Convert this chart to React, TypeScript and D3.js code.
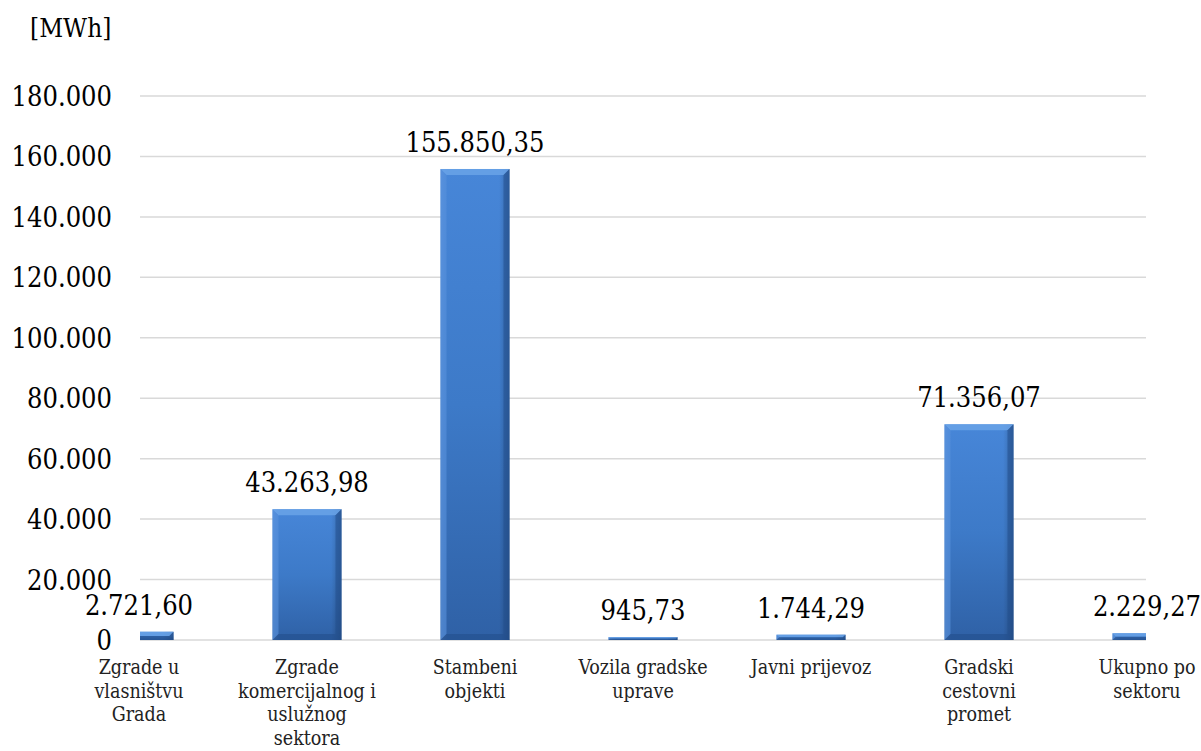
import React from "react";
import * as d3 from "d3";

const categories: string[][] = [
  ["Zgrade u", "vlasništvu", "Grada"],
  ["Zgrade", "komercijalnog i", "uslužnog", "sektora"],
  ["Stambeni", "objekti"],
  ["Vozila gradske", "uprave"],
  ["Javni prijevoz"],
  ["Gradski", "cestovni", "promet"],
  ["Ukupno po", "sektoru"],
];
const values: number[] = [2721.6, 43263.98, 155850.35, 945.73, 1744.29, 71356.07, 2229.27];
const valueLabels: string[] = ["2.721,60", "43.263,98", "155.850,35", "945,73", "1.744,29", "71.356,07", "2.229,27"];
const yTicks: number[] = [0, 20000, 40000, 60000, 80000, 100000, 120000, 140000, 160000, 180000];
const yTickLabels: string[] = ["0", "20.000", "40.000", "60.000", "80.000", "100.000", "120.000", "140.000", "160.000", "180.000"];
const unitLabel = "[MWh]";

const W = 1201;
const H = 751;
const plotLeft = 140;
const plotRight = 1146;
const font = "'DejaVu Serif Condensed', 'DejaVu Serif', serif";

export default function App() {
  const y = d3.scaleLinear().domain([0, 180000]).range([640, 96]);
  const x = d3
    .scalePoint<number>()
    .domain(d3.range(values.length))
    .range([139, 1147]);
  const barW = 69;

  return (
    <svg
      width={W}
      height={H}
      style={{ position: "absolute", left: 0, top: 0, background: "#fff" }}
      fontFamily={font}
    >
      <defs>
        <linearGradient id="barV" x1="0" y1="0" x2="0" y2="1">
          <stop offset="0" stopColor="#4786d8" />
          <stop offset="0.5" stopColor="#3d7ac8" />
          <stop offset="1" stopColor="#2f61a6" />
        </linearGradient>
        <linearGradient id="barH" x1="0" y1="0" x2="1" y2="0">
          <stop offset="0" stopColor="#ffffff" stopOpacity="0.12" />
          <stop offset="0.1" stopColor="#ffffff" stopOpacity="0" />
          <stop offset="0.85" stopColor="#000000" stopOpacity="0" />
          <stop offset="1" stopColor="#000000" stopOpacity="0.22" />
        </linearGradient>
        <clipPath id="plotClip">
          <rect x={plotLeft} y={0} width={plotRight - plotLeft} height={H} />
        </clipPath>
      </defs>

      <text x={30} y={37} fontSize={26} fill="#000">
        {unitLabel}
      </text>

      {yTicks.map((t, i) => (
        <g key={t}>
          <line
            x1={plotLeft}
            x2={plotRight}
            y1={y(t)}
            y2={y(t)}
            stroke="#d9d9d9"
            strokeWidth={1.5}
          />
          <text
            x={112}
            y={y(t) + 10}
            fontSize={27}
            textAnchor="end"
            fill="#000"
          >
            {yTickLabels[i]}
          </text>
        </g>
      ))}

      <g clipPath="url(#plotClip)">
        {values.map((v, i) => {
          const xc = x(i)!;
          const x0 = xc - barW / 2;
          const top = y(v);
          const h = y(0) - top;
          const b = Math.min(6, h / 2);
          return (
            <g key={i}>
              <rect x={x0} y={top} width={barW} height={h} fill="url(#barV)" />
              <rect x={x0} y={top} width={barW} height={h} fill="url(#barH)" />
              <polygon
                points={`${x0},${top} ${x0 + barW},${top} ${x0 + barW - b},${top + b} ${x0 + b},${top + b}`}
                fill="#6aa3e8"
                opacity={0.85}
              />
              <polygon
                points={`${x0},${top} ${x0 + b},${top + b} ${x0 + b},${top + h - b} ${x0},${top + h}`}
                fill="#5590dc"
                opacity={0.6}
              />
              <polygon
                points={`${x0 + barW},${top} ${x0 + barW - b},${top + b} ${x0 + barW - b},${top + h - b} ${x0 + barW},${top + h}`}
                fill="#234f8c"
                opacity={0.55}
              />
              <polygon
                points={`${x0},${top + h} ${x0 + b},${top + h - b} ${x0 + barW - b},${top + h - b} ${x0 + barW},${top + h}`}
                fill="#234f8c"
                opacity={0.6}
              />
            </g>
          );
        })}
      </g>

      {values.map((v, i) => (
        <text
          key={i}
          x={x(i)!}
          y={y(v) - 17}
          fontSize={27}
          textAnchor="middle"
          fill="#000"
        >
          {valueLabels[i]}
        </text>
      ))}

      {categories.map((lines, i) => (
        <text
          key={i}
          x={x(i)!}
          y={674}
          fontSize={19.5}
          textAnchor="middle"
          fill="#222"
        >
          {lines.map((l, j) => (
            <tspan key={j} x={x(i)!} dy={j === 0 ? 0 : 23.5}>
              {l}
            </tspan>
          ))}
        </text>
      ))}
    </svg>
  );
}
